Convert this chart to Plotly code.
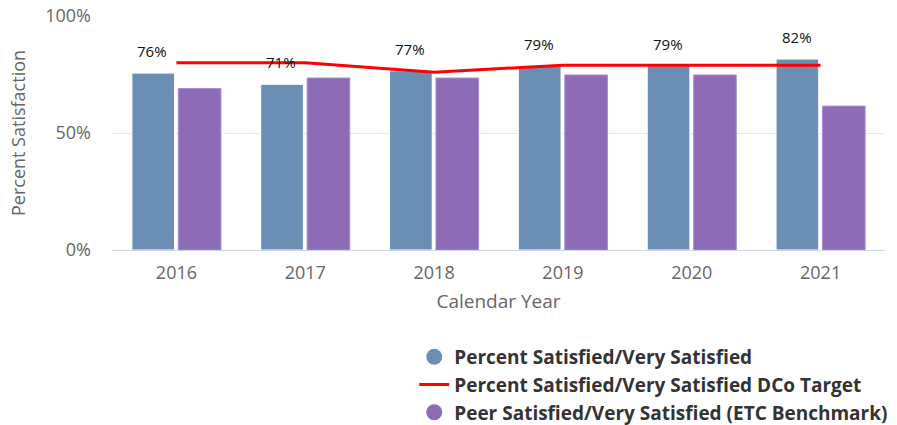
import plotly.graph_objects as go

years = ["2016", "2017", "2018", "2019", "2020", "2021"]
satisfied = [75.6, 70.8, 76.6, 78.8, 78.8, 81.6]
satisfied_labels = ["76%", "71%", "77%", "79%", "79%", "82%"]
target = [80, 80, 76, 79, 79, 79]
peer = [69, 73.5, 73.5, 74.8, 74.8, 61.5]

blue = "#6b8fb4"
purple = "#8e6bb7"
red = "#ff0000"

fig = go.Figure()
fig.add_trace(go.Bar(x=years, y=satisfied, name="Percent Satisfied/Very Satisfied",
                     marker=dict(color=blue, line=dict(color="#ffffff", width=1)),
                     showlegend=False))
fig.add_trace(go.Bar(x=years, y=peer, name="Peer Satisfied/Very Satisfied (ETC Benchmark)",
                     marker=dict(color=purple, line=dict(color="#a88fce", width=1)),
                     showlegend=False))
fig.add_trace(go.Scatter(x=years, y=target, mode="lines",
                         line=dict(color=red, width=3), showlegend=False))

# legend proxies
fig.add_trace(go.Scatter(x=[None], y=[None], mode="markers", name="Percent Satisfied/Very Satisfied",
                         marker=dict(color=blue, size=18, symbol="circle")))
fig.add_trace(go.Scatter(x=[None], y=[None], mode="lines", name="Percent Satisfied/Very Satisfied DCo Target",
                         line=dict(color=red, width=3)))
fig.add_trace(go.Scatter(x=[None], y=[None], mode="markers", name="Peer Satisfied/Very Satisfied (ETC Benchmark)",
                         marker=dict(color=purple, size=18, symbol="circle")))

# annotations on a category axis use category index positions
for i, (v, t) in enumerate(zip(satisfied, satisfied_labels)):
    fig.add_annotation(x=i, y=v, xref="x", yref="y", text=t, showarrow=False,
                       xshift=-24, yshift=22,
                       font=dict(size=15, color="#111111", family="Open Sans"))

fig.update_layout(
    width=897, height=425,
    margin=dict(l=112, r=12, t=16, b=175, autoexpand=False),
    plot_bgcolor="white", paper_bgcolor="white",
    barmode="group", bargap=0.28, bargroupgap=0.08,
    font=dict(family="Open Sans", color="#666666", size=17),
    legend=dict(x=0.391, y=-0.376, xanchor="left", yanchor="top",
                font=dict(size=19, color="#333333", family="Open Sans", weight="bold"),
                tracegroupgap=0, itemwidth=30),
    xaxis=dict(type="category",
               title=dict(text="Calendar Year", font=dict(size=19, color="#666666"), standoff=12),
               showline=True, linecolor="#ccd6eb", linewidth=1, ticks="", tickfont=dict(size=18),
               ticklabelstandoff=6),
    yaxis=dict(title=dict(text="Percent Satisfaction", font=dict(size=18, color="#666666"), standoff=14),
               range=[0, 100], tickvals=[0, 50, 100], ticktext=["0%", "50%", "100%"],
               gridcolor="#e6e6e6", zeroline=False, tickfont=dict(size=18), ticklabelstandoff=20),
)

fig.write_html("out.html", config={"displayModeBar": False},
               post_script="document.body.style.margin='0';")
